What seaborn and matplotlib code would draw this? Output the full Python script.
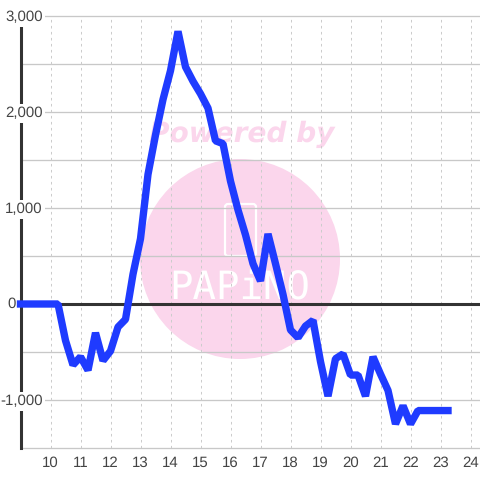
import numpy as np
import pandas as pd
import matplotlib
matplotlib.use("Agg")
import matplotlib.pyplot as plt
from matplotlib.patches import Circle, FancyBboxPatch
import seaborn as sns

hours = [9 + 0.25 * i for i in range(58)]
values = [0, 0, 0, 0, 0, 0,
          -380, -635, -550, -690, -300, -590, -490, -240, -160, 310, 680,
          1350, 1760, 2130, 2430, 2840, 2470, 2320, 2190, 2040, 1700, 1670,
          1280, 980, 720, 420, 240, 730, 420, 100, -270, -350, -230, -170,
          -600, -960, -570, -520, -740, -740, -960, -550, -730, -900, -1250,
          -1060, -1250, -1110, -1110, -1110, -1110, -1110]
x_ticks = list(range(10, 25))
y_ticks = [-1000, 1000, 2000, 3000]
y_tick_labels = ["-1,000", "1,000", "2,000", "3,000"]
y_grid = [-1500, -1000, -500, 500, 1000, 1500, 2000, 2500, 3000]

sns.set_theme(style="white")
plt.rcParams['font.family'] = ['Liberation Sans', 'DejaVu Sans']
plt.rcParams['text.hinting'] = 'none'
plt.rcParams['text.hinting_factor'] = 1

df = pd.DataFrame({"hour": hours, "value": values})
fig = plt.figure(figsize=(4.8, 4.8), dpi=100, facecolor="white")
W = H = 480.0
ax = fig.add_axes([20.5 / W, 32 / H, 459.5 / W, 432 / H])
ax.set_facecolor("none")

# watermark in figure pixels, beneath the axes
pink = "#fbd6ec"
fig.patches.append(Circle((240, 480 - 259), 100, transform=None, facecolor=pink, edgecolor="none", zorder=-5))
fig.patches.append(FancyBboxPatch((225, 480 - 256), 31, 52, boxstyle="round,pad=0,rounding_size=3",
                                  transform=None, facecolor="none", edgecolor="white", linewidth=1.6, zorder=-4))
fig.text(242 / W, 1 - 134.5 / H, "Powered by", color=pink, fontsize=20.3, fontweight="bold", fontstyle="italic",
         family="DejaVu Sans", ha="center", va="center", zorder=-4)
fig.text(239.5 / W, 1 - 289 / H, "PAPiNO", color="white", fontsize=28, family="DejaVu Sans Mono",
         ha="center", va="center", zorder=-4)

sns.lineplot(data=df, x="hour", y="value", ax=ax, color="#1f3bff", linewidth=5.3, zorder=5,
             clip_on=False, solid_capstyle="projecting", solid_joinstyle="bevel", errorbar=None)

ax.set_xlim(9, 9 + 459.5 / 30)
ax.set_ylim(-1500, 3000)
ax.set_xlabel("")
ax.set_ylabel("")

ax.set_xticks(x_ticks)
ax.set_yticks(y_ticks)
ax.tick_params(axis="both", which="both", length=0)
ax.tick_params(axis="x", labelsize=10.5, labelcolor="#444444", pad=5.5)
ax.tick_params(axis="y", labelsize=10.5, labelcolor="#444444", pad=-16)
ax.grid(False)
for v in y_grid:
    ax.axhline(v, color="#c8c8c8", linewidth=0.95, zorder=1, clip_on=False)
for v in x_ticks:
    ax.axvline(v, color="#cccccc", linewidth=0.72, linestyle=(0, (2.6, 3.4)), zorder=1)
ax.axhline(0, color="#333333", linewidth=2.2, zorder=2)

for s in ["top", "right", "bottom"]:
    ax.spines[s].set_visible(False)
ax.spines["left"].set_color("#333333")
ax.spines["left"].set_linewidth(2.2)
ax.spines["left"].set_zorder(3)
ax.yaxis.set_zorder(4)

ax.set_yticklabels(y_tick_labels)
for lab in ax.get_yticklabels():
    lab.set_ha("right")
    lab.set_bbox(dict(facecolor="white", edgecolor="none", pad=1.6))

# the zero label sits left of the axis line, unlike the others
ax.annotate("0", xy=(0, 0), xycoords=("axes fraction", "data"), xytext=(-3.2, 0),
            textcoords="offset points", ha="right", va="center", fontsize=10.5, color="#444444",
            annotation_clip=False)

fig.savefig("out.png", dpi=100)
